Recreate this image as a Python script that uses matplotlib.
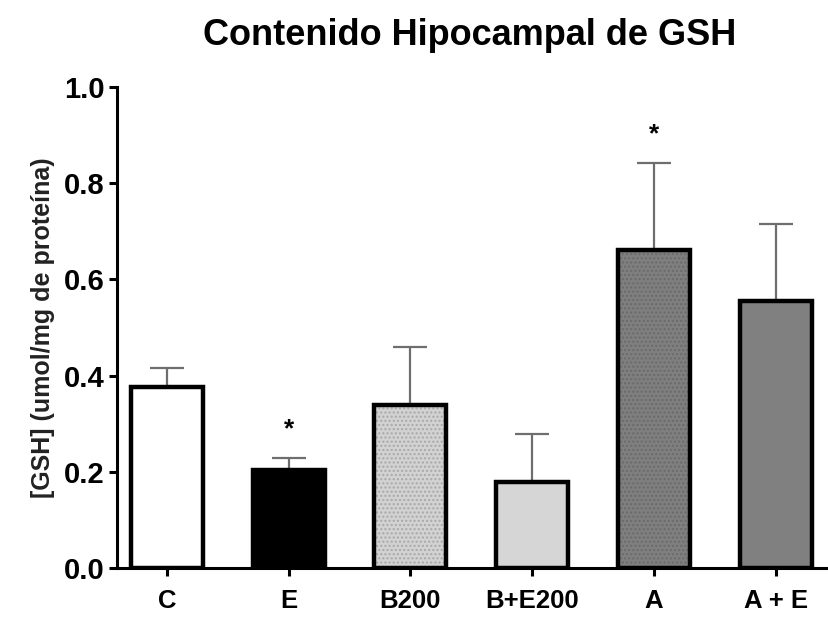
import numpy as np
import matplotlib
matplotlib.use("Agg")
import matplotlib.pyplot as plt

plt.rcParams['font.family'] = ['Liberation Sans', 'DejaVu Sans']
plt.rcParams['hatch.linewidth'] = 1.0

groups = ['C', 'E', 'B200', 'B+E200', 'A', 'A + E']
gsh = [0.376, 0.204, 0.339, 0.179, 0.661, 0.555]
sem = [0.040, 0.025, 0.120, 0.100, 0.180, 0.160]
fills = ['white', 'black', '#d2d2d2', '#d6d6d6', '#7f7f7f', '#808080']
hatches = [None, None, '....', None, '....', None]
signif = ['', '*', '', '', '*', '']

x = np.arange(len(groups))

fig = plt.figure(figsize=(8.29, 6.17), dpi=100)
ax = fig.add_axes([0.141, 0.0794, 0.855, 0.7796])

# error bars first so the bars sit on top of the lower half
ax.errorbar(x, gsh, yerr=[np.zeros(len(sem)), sem], fmt='none', ecolor='#6e6e6e',
            elinewidth=1.6, capsize=12.5, capthick=1.6, zorder=1)

# fill + dot texture, then black outline
for xi, h, c, ht in zip(x, gsh, fills, hatches):
    ax.bar(xi, h, width=0.59, color=c, hatch=ht, edgecolor='#a8a8a8' if c != '#7f7f7f' else '#6a6a6a',
           linewidth=0, zorder=2)
ax.bar(x, gsh, width=0.59, color='none', edgecolor='black', linewidth=3.2, zorder=3)

for xi, h, e, s in zip(x, gsh, sem, signif):
    if s:
        ax.text(xi, h + e + 0.06, s, ha='center', va='center', fontsize=19, fontweight='bold')

ax.set_xlim(-0.41, 5.41)
ax.set_ylim(0, 1.0)
ax.set_yticks([0.0, 0.2, 0.4, 0.6, 0.8, 1.0])
ax.set_yticklabels(['0.0', '0.2', '0.4', '0.6', '0.8', '1.0'], fontsize=21, fontweight='bold')
ax.set_xticks(x)
ax.set_xticklabels(groups, fontsize=18.5, fontweight='bold')
ax.tick_params(axis='both', width=2.2, length=6, direction='out')
ax.tick_params(axis='x', pad=9)
ax.tick_params(axis='y', pad=3)
ax.spines['top'].set_visible(False)
ax.spines['right'].set_visible(False)
ax.spines['left'].set_linewidth(2.2)
ax.spines['bottom'].set_linewidth(2.2)

ax.set_ylabel('[GSH] (umol/mg de proteína)', fontsize=18, fontweight='bold', color='#222222', labelpad=6)
fig.text(0.566, 0.943, 'Contenido Hipocampal de GSH', ha='center', va='center',
         fontsize=26, fontweight='bold')

fig.savefig('out.png', dpi=100)
